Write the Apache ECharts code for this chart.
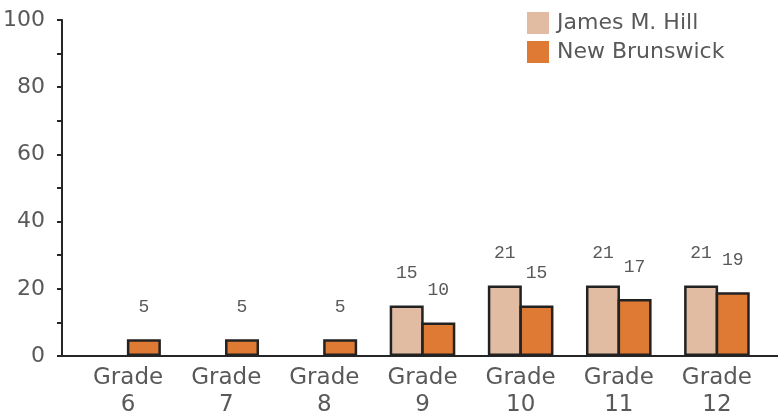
<!DOCTYPE html>
<html>
<head>
<meta charset="utf-8">
<script src="https://cdn.jsdelivr.net/npm/echarts@6/dist/echarts.min.js"></script>
<style>
  html, body { margin: 0; padding: 0; background: #fff; }
  #chart { width: 778px; height: 411px; }
</style>
</head>
<body>
<div id="chart"></div>
<script>
// Enrollment share by grade, two series
const grades = ['Grade\n6', 'Grade\n7', 'Grade\n8', 'Grade\n9', 'Grade\n10', 'Grade\n11', 'Grade\n12'];
const jamesHill = [null, null, null, 15, 21, 21, 21];
const newBrunswick = [5, 5, 5, 10, 15, 17, 19];
const yTicks = [0, 20, 40, 60, 80, 100];

const textColor = '#595959';
const sansFont = 'DejaVu Sans';

const chart = echarts.init(document.getElementById('chart'), null, { renderer: 'canvas' });

const barLabel = {
  show: true,
  position: 'top',
  distance: 23,
  color: textColor,
  fontFamily: 'Liberation Mono',
  fontSize: 18
};

chart.setOption({
  animation: false,
  backgroundColor: '#ffffff',
  legend: {
    orient: 'vertical',
    left: 527,
    top: 12,
    padding: 0,
    icon: 'rect',
    itemWidth: 22,
    itemHeight: 22,
    itemGap: 7,
    textStyle: { color: textColor, fontFamily: sansFont, fontSize: 22, padding: [0, 0, 0, 3] },
    itemStyle: { borderWidth: 0 },
    data: ['James M. Hill', 'New Brunswick']
  },
  grid: [
    // frame: value axes with the axis lines and y labels
    { left: 62, right: 0, top: 20, bottom: 55, outerBoundsMode: 'none' },
    // bars
    { left: 79, width: 687, top: 20, bottom: 55, outerBoundsMode: 'none' }
  ],
  xAxis: [
    {
      gridIndex: 0, type: 'value', min: 0, max: 1,
      axisLine: { show: true, lineStyle: { color: '#262626', width: 2 } },
      axisTick: { show: false }, axisLabel: { show: false }, splitLine: { show: false }
    },
    {
      gridIndex: 1, type: 'category', data: grades,
      axisLine: { show: false }, axisTick: { show: false },
      axisLabel: {
        color: textColor, fontFamily: sansFont, fontSize: 23,
        lineHeight: 27, margin: 9, interval: 0
      }
    }
  ],
  yAxis: [
    {
      gridIndex: 0, type: 'value', min: yTicks[0], max: yTicks[yTicks.length - 1], interval: 20,
      axisLine: { show: true, lineStyle: { color: '#262626', width: 2 } },
      axisTick: { show: true, inside: false, length: 5, lineStyle: { color: '#262626', width: 2 } },
      minorTick: { show: true, splitNumber: 2, length: 5, lineStyle: { color: '#262626', width: 2 } },
      axisLabel: { color: textColor, fontFamily: sansFont, fontSize: 22, margin: 17 },
      splitLine: { show: false }
    },
    {
      gridIndex: 1, type: 'value', min: yTicks[0], max: yTicks[yTicks.length - 1],
      show: false, splitLine: { show: false }
    }
  ],
  series: [
    {
      name: 'James M. Hill', type: 'bar', xAxisIndex: 1, yAxisIndex: 1,
      data: jamesHill, barWidth: 34, barGap: '-7%',
      itemStyle: { color: '#E1BCA3', borderColor: '#222222', borderWidth: 2.5 },
      label: barLabel
    },
    {
      name: 'New Brunswick', type: 'bar', xAxisIndex: 1, yAxisIndex: 1,
      data: newBrunswick, barWidth: 34, barGap: '-7%',
      itemStyle: { color: '#DF7A35', borderColor: '#222222', borderWidth: 2.5 },
      label: barLabel
    }
  ]
});
</script>
</body>
</html>
